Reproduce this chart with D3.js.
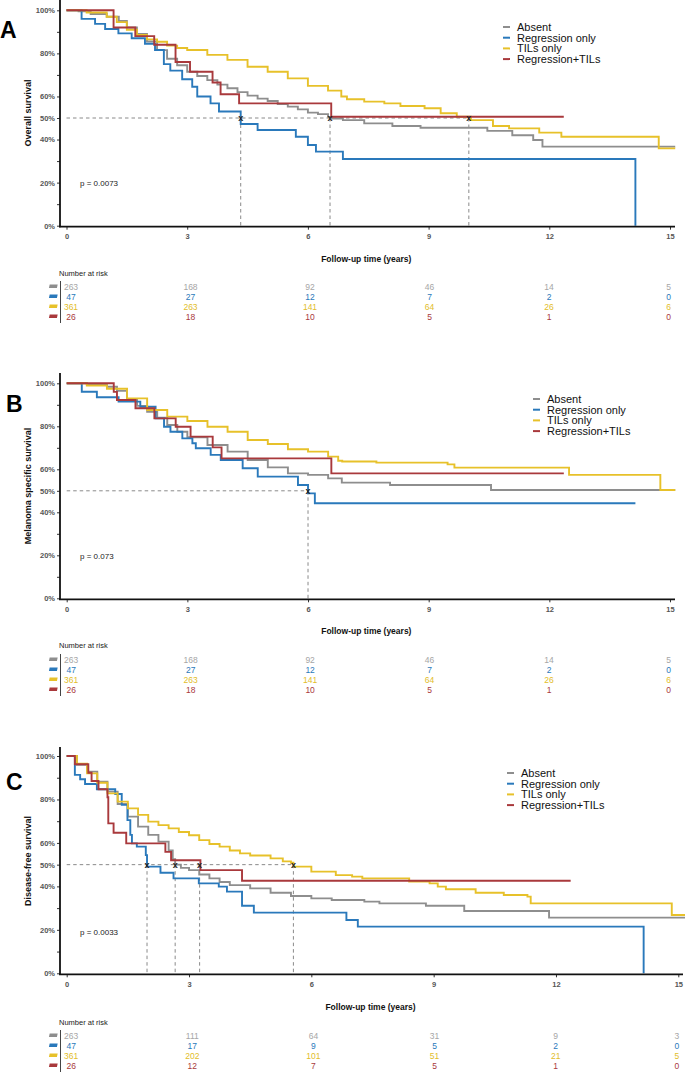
<!DOCTYPE html>
<html><head><meta charset="utf-8">
<script src="https://cdn.jsdelivr.net/npm/d3@7"></script>
<style>
html,body{margin:0;padding:0;background:#fff;}
svg{display:block;font-family:"Liberation Sans",Arial,sans-serif;}
</style></head>
<body>
<svg id="chart" width="685" height="1073"></svg>
<script>
// ---------- DATA ----------
const groups = ["Absent", "Regression only", "TILs only", "Regression+TILs"];
const timeTicks = [0, 3, 6, 9, 12, 15];
const yTicks = [0, 10, 20, 30, 40, 50, 60, 70, 80, 90, 100];
const yTickLabels = [0, 20, 40, 50, 60, 80, 100];
const panelLetters = ["A", "B", "C"];
const yTitles = ["Overall survival", "Melanoma specific survival", "Disease-free survival"];
const pValues = ["p = 0.0073", "p = 0.073", "p = 0.0033"];

// Panel A: overall survival  [time (years), survival %]
const osAbsent = [[0,100],[0.3,99.5],[0.6,98.3],[1.0,97],[1.3,95],[1.5,92],[1.75,89],[2.0,85.5],[2.25,81.5],[2.5,77.5],[2.75,74.5],[3.0,71.5],[3.25,69.5],[3.5,67.6],[3.75,65.5],[4.0,63.8],[4.25,62],[4.5,60.4],[4.75,59],[5.0,57.9],[5.25,56.5],[5.5,55.3],[5.75,54],[6.0,52.5],[6.25,51.8],[6.5,50.5],[6.6,49.8],[6.87,49],[7.4,47.5],[8.1,46.3],[8.8,45.5],[10.46,44],[11.08,42],[11.6,39.8],[11.83,36.7],[15.13,36.7]];
const osRegression = [[0,100],[0.375,96],[0.71,93.7],[0.96,91.3],[1.29,89.3],[1.62,87],[1.95,84.5],[2.2,81.6],[2.42,75],[2.58,72],[2.875,68],[3.125,64.5],[3.25,60],[3.58,56.8],[3.79,53],[4.33,47.2],[4.75,44.4],[5.7,41.3],[6.0,37.5],[6.2,34.4],[6.87,31],[14.14,31],[14.14,0]];
const osTILs = [[0,100],[0.5,99],[1.0,97],[1.25,94.5],[1.5,91],[1.75,88.5],[2.0,86.5],[2.25,85.4],[2.5,83.6],[2.75,82.5],[3.0,81.6],[3.5,79.3],[4.0,77],[4.5,73.8],[5.0,71.5],[5.5,68.4],[6.0,64.9],[6.5,62.7],[6.83,60],[6.97,58.7],[7.4,57.6],[7.9,56.8],[8.3,55.6],[8.9,54.5],[9.3,52.2],[9.7,50.6],[10.05,49],[10.6,46.3],[11.0,45.2],[11.75,43.2],[12.3,41.3],[14.72,35.9],[15.13,35.9]];
const osRegTILs = [[0,100],[1.17,92],[1.71,88],[2.18,84],[2.71,76],[3.07,71.5],[3.63,66.5],[3.83,61],[4.29,56.8],[6.58,50.6],[12.36,50.6]];
const osMedians = [4.33, 6.55, 10.0];

// Panel B: melanoma specific survival
const mssAbsent = [[0,100],[0.5,99.5],[1.0,98.4],[1.25,96.5],[1.5,92.2],[1.75,89.5],[2.0,86.8],[2.25,84],[2.5,80.6],[2.75,77.5],[3.0,74.9],[3.5,71.3],[4.0,68.2],[4.5,64.3],[5.0,60.9],[5.5,58.1],[6.0,57.4],[6.5,55.8],[6.84,53.8],[8.04,52.7],[10.55,50.4],[15.13,50.4]];
const mssRegression = [[0,100],[0.375,96.1],[0.75,93.5],[1.29,91.5],[1.83,89.1],[2.21,83.7],[2.42,79.8],[2.58,77.5],[2.875,74.4],[3.125,72.1],[3.21,69.8],[3.58,66.7],[3.83,64.3],[4.375,60.5],[4.75,56.6],[5.75,52.7],[6.0,48.8],[6.17,44.2],[14.14,44.2]];
const mssTILs = [[0,100],[0.5,99],[1.0,97.5],[1.5,93],[2.0,87.6],[2.5,84.5],[3.0,82.5],[3.5,79.8],[4.0,77.5],[4.5,73.6],[5.0,71.8],[5.5,69.3],[6.0,68.2],[6.5,65.9],[6.75,64],[6.85,63.6],[7.7,63.1],[9.47,62.3],[9.64,60.8],[12.49,57.4],[14.76,50.4],[15.13,50.4]];
const mssRegTILs = [[0,100],[1.17,96],[1.25,92.2],[1.71,88.4],[2.18,83.7],[2.71,79.8],[3.08,75.2],[3.63,70.2],[3.85,65.1],[6.58,58.1],[12.36,58.1]];
const mssMedians = [6.0];

// Panel C: disease-free survival
const dfsAbsent = [[0,100],[0.25,96],[0.5,92.8],[0.75,88.2],[1.0,83.6],[1.25,77.9],[1.5,72.1],[1.75,67.5],[2.0,63.7],[2.25,60.6],[2.5,56.5],[2.6,52.5],[2.66,50],[2.8,48.5],[3.0,47.5],[3.25,45.5],[3.5,43.7],[3.75,42],[4.0,40.6],[4.5,39.1],[5.0,37.1],[5.5,35.6],[6.0,34.5],[6.5,33.7],[7.3,33],[7.67,32.2],[8.81,31.1],[9.75,28.7],[11.83,25.6],[15.2,25.6]];
const dfsRegression = [[0,100],[0.2,91.3],[0.33,89.3],[0.45,87.1],[0.74,84.7],[1.19,82.5],[1.35,77.5],[1.49,70.5],[1.56,63.7],[1.6,59.8],[1.72,58.3],[1.94,54.4],[1.97,49.1],[2.3,46.3],[2.62,43.7],[3.24,41.4],[3.73,39.9],[3.93,37.6],[4.3,31.1],[4.59,27.9],[6.86,24.5],[7.14,21.5],[14.15,21.5],[14.15,0]];
const dfsTILs = [[0,100],[0.25,96.5],[0.5,92],[0.75,87.7],[1.0,82.8],[1.25,79],[1.5,75.9],[1.75,72.9],[2.0,69.8],[2.25,68.2],[2.5,66.7],[2.75,65],[3.0,63.5],[3.25,61.3],[3.5,59.5],[3.75,58.3],[4.0,56.5],[4.25,55.2],[4.5,54.2],[5.0,52.9],[5.3,51.5],[5.5,50.9],[5.56,49.1],[6.0,46.8],[6.6,45.2],[7.0,44.5],[7.25,43.7],[8.4,42.2],[8.9,41.4],[9.1,39.9],[9.3,38.7],[10.03,37.1],[10.72,36],[11.3,35.3],[11.38,32.2],[14.84,26.8],[15.2,26.8]];
const dfsRegTILs = [[0,100],[0.2,96.2],[0.53,92.3],[0.61,88.5],[0.78,84.7],[1.0,81],[1.02,69],[1.15,64.7],[1.46,59.8],[2.42,55.9],[2.56,52],[3.28,47.5],[4.3,42.6],[12.36,42.6]];
const dfsMedians = [1.97, 2.66, 3.26, 5.56];

// Number at risk (at 0,3,6,9,12,15 years)
const riskOS_Absent = [263,168,92,46,14,5];
const riskOS_Regression = [47,27,12,7,2,0];
const riskOS_TILs = [361,263,141,64,26,6];
const riskOS_RegTILs = [26,18,10,5,1,0];
const riskDFS_Absent = [263,111,64,31,9,3];
const riskDFS_Regression = [47,17,9,5,2,0];
const riskDFS_TILs = [361,202,101,51,21,5];
const riskDFS_RegTILs = [26,12,7,5,1,0];

// ---------- STYLE / LAYOUT ----------
const colors = ["#8e8e8e", "#2a79bb", "#e7c12a", "#a9393c"];
const riskColors = ["#a6a6a6", "#2a79bb", "#e2bd2a", "#a9393c"];

const panels = [
  {curves:[osAbsent,osRegression,osTILs,osRegTILs], medians:osMedians,
   risk:[riskOS_Absent,riskOS_Regression,riskOS_TILs,riskOS_RegTILs],
   x0:66.5, x15:670, y100:10.3, y0:225.7, axisTop:0, axisRight:675,
   tickY:240, titleY:262, narY:276, row0:290, legX:503, legY:27, letterX:0, letterY:38, pY:186, yTitleY:113},
  {curves:[mssAbsent,mssRegression,mssTILs,mssRegTILs], medians:mssMedians,
   risk:[riskOS_Absent,riskOS_Regression,riskOS_TILs,riskOS_RegTILs],
   x0:66.7, x15:670, y100:383.3, y0:598.3, axisTop:373, axisRight:675,
   tickY:612, titleY:634, narY:648, row0:663, legX:533, legY:399, letterX:6, letterY:412, pY:559, yTitleY:486},
  {curves:[dfsAbsent,dfsRegression,dfsTILs,dfsRegTILs], medians:dfsMedians,
   risk:[riskDFS_Absent,riskDFS_Regression,riskDFS_TILs,riskDFS_RegTILs],
   x0:66.7, x15:678.3, y100:756, y0:973.3, axisTop:747, axisRight:683,
   tickY:991, titleY:1010, narY:1025, row0:1039, legX:507, legY:773, letterX:6, letterY:790, pY:935, yTitleY:861}
];

const svg = d3.select("#chart");
const axisX = 60;

panels.forEach((p, pi) => {
  const g = svg.append("g");
  const x = d3.scaleLinear().domain([0, 15]).range([p.x0, p.x15]);
  const y = d3.scaleLinear().domain([0, 100]).range([p.y0, p.y100]);
  const xr = d3.scaleLinear().domain([0, 15]).range([p.x0 + 4.5, p.x15 - 1.5]);

  // median reference lines
  const maxMed = d3.max(p.medians);
  g.append("line").attr("x1", x(0)).attr("x2", x(maxMed)).attr("y1", y(50)).attr("y2", y(50))
    .attr("stroke", "#8a8a8a").attr("stroke-width", 1).attr("stroke-dasharray", "3.5,3");
  g.selectAll(".medv").data(p.medians).enter().append("line")
    .attr("x1", d => x(d)).attr("x2", d => x(d)).attr("y1", y(50)).attr("y2", y(0))
    .attr("stroke", "#8a8a8a").attr("stroke-width", 1).attr("stroke-dasharray", "3.5,3");

  // curves
  const line = d3.line().x(d => x(d[0])).y(d => y(d[1])).curve(d3.curveStepAfter);
  p.curves.forEach((c, i) => {
    g.append("path").attr("d", line(c)).attr("fill", "none")
      .attr("stroke", colors[i]).attr("stroke-width", 1.9).attr("stroke-linejoin", "miter");
  });

  // median markers
  g.selectAll(".medx").data(p.medians).enter().append("text")
    .attr("x", d => x(d)).attr("y", y(50) + 3)
    .attr("text-anchor", "middle").attr("font-size", 9).attr("font-weight", "bold")
    .attr("fill", "#222").text("x");

  // y axis
  const yAxis = d3.axisLeft(y).tickValues(yTicks).tickSize(3).tickPadding(2)
    .tickFormat(d => yTickLabels.includes(d) ? d + "%" : "");
  const ya = g.append("g").attr("transform", `translate(${axisX},0)`).call(yAxis);
  ya.select(".domain").remove();
  ya.selectAll("line").attr("stroke", "#333");
  ya.selectAll("text").attr("font-size", 7.5).attr("font-weight", "bold").attr("fill", "#555")
    .attr("font-family", "Liberation Sans, Arial, sans-serif");
  g.append("line").attr("x1", axisX).attr("x2", axisX).attr("y1", p.axisTop).attr("y2", p.y0 + 1.5)
    .attr("stroke", "#111").attr("stroke-width", 1.8);

  // x axis
  const xAxis = d3.axisBottom(x).tickValues(timeTicks).tickSize(3).tickPadding(4).tickFormat(d3.format("d"));
  const xa = g.append("g").attr("transform", `translate(0,${p.y0 + 1})`).call(xAxis);
  xa.select(".domain").remove();
  xa.selectAll("line").attr("stroke", "#333");
  xa.selectAll("text").attr("font-size", 7.5).attr("font-weight", "bold").attr("fill", "#555")
    .attr("font-family", "Liberation Sans, Arial, sans-serif");
  g.append("line").attr("x1", axisX - 1).attr("x2", p.axisRight).attr("y1", p.y0 + 1).attr("y2", p.y0 + 1)
    .attr("stroke", "#111").attr("stroke-width", 1.8);

  // axis titles
  g.append("text").attr("x", (p.x0 + p.x15) / 2 - 2).attr("y", p.titleY).attr("text-anchor", "middle")
    .attr("font-size", 8.5).attr("font-weight", "bold").attr("fill", "#111").text("Follow-up time (years)");
  g.append("text").attr("transform", `translate(31,${p.yTitleY}) rotate(-90)`).attr("text-anchor", "middle")
    .attr("font-size", 9).attr("font-weight", "bold").attr("fill", "#111").text(yTitles[pi]);

  // p value
  g.append("text").attr("x", 80).attr("y", p.pY).attr("font-size", 8).attr("fill", "#222").text(pValues[pi]);

  // panel letter
  g.append("text").attr("x", p.letterX).attr("y", p.letterY).attr("font-size", 23).attr("font-weight", "bold")
    .attr("fill", "#000").text(panelLetters[pi]);

  // legend
  groups.forEach((name, i) => {
    const ly = p.legY + i * 10.7;
    g.append("line").attr("x1", p.legX).attr("x2", p.legX + 7).attr("y1", ly).attr("y2", ly)
      .attr("stroke", colors[i]).attr("stroke-width", 2);
    g.append("text").attr("x", p.legX + 14).attr("y", ly + 4).attr("font-size", 11).attr("fill", "#111").text(name);
  });

  // number at risk table
  g.append("text").attr("x", 59).attr("y", p.narY).attr("font-size", 7.5).attr("fill", "#222").text("Number at risk");
  g.append("line").attr("x1", 60.5).attr("x2", 60.5).attr("y1", p.row0 - 9).attr("y2", p.row0 + 3 * 10 + 3)
    .attr("stroke", "#444").attr("stroke-width", 1);
  p.risk.forEach((vals, i) => {
    const ry = p.row0 + i * 10;
    g.append("rect").attr("x", 48.5).attr("y", ry - 5.5).attr("width", 8).attr("height", 3.5)
      .attr("fill", colors[i]).attr("transform", `skewX(-12)`).attr("transform-origin", `52 ${ry}`);
    g.selectAll(null).data(vals).enter().append("text")
      .attr("x", (d, k) => xr(timeTicks[k])).attr("y", ry)
      .attr("text-anchor", "middle").attr("font-size", 8.5).attr("fill", riskColors[i]).text(d => d);
  });
});
</script>
</body></html>
